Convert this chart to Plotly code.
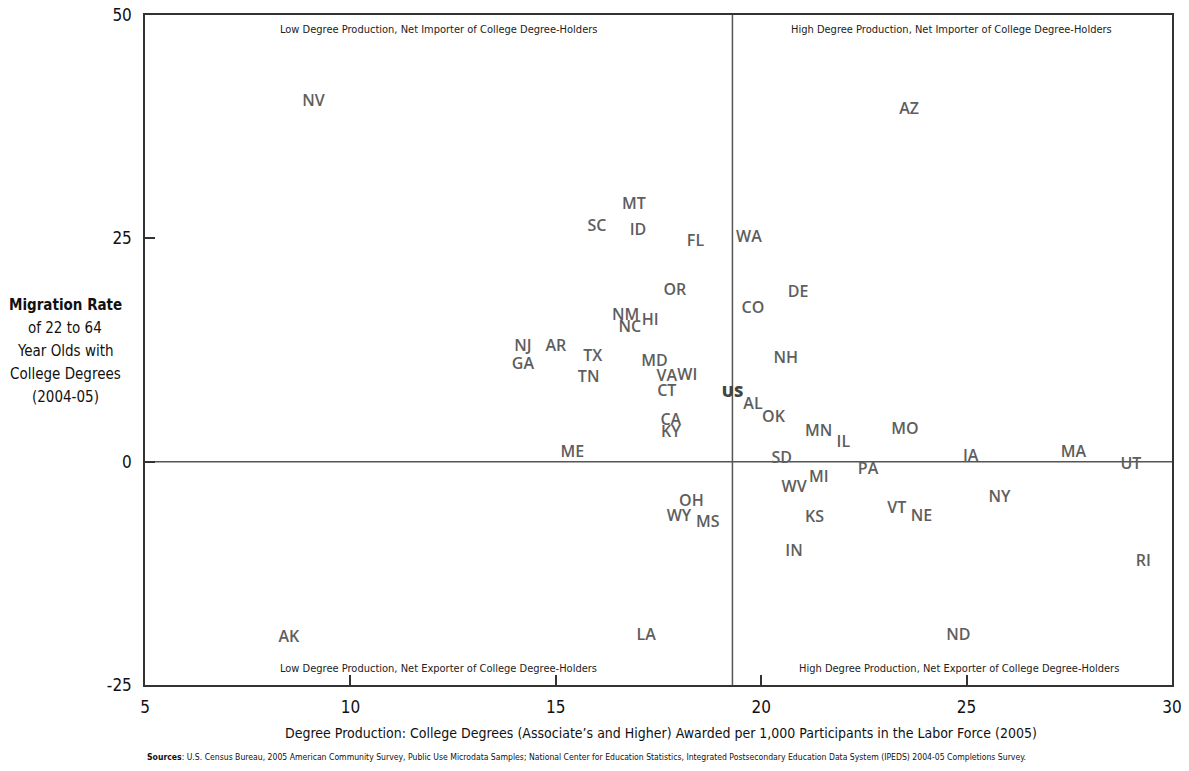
import plotly.graph_objects as go

states = ["NV", "AZ", "MT", "SC", "ID", "FL", "WA", "OR", "DE", "CO", "NM", "HI", "NC",
          "NJ", "AR", "GA", "TX", "TN", "MD", "VA", "WI", "CT", "AL", "OK", "CA", "KY",
          "NH", "MN", "IL", "MO", "SD", "IA", "MA", "UT", "PA", "WV", "MI", "NY", "VT",
          "NE", "KS", "IN", "RI", "ME", "OH", "WY", "MS", "AK", "LA", "ND"]
degree_production = [9.1, 23.6, 16.9, 16.0, 17.0, 18.4, 19.7, 17.9, 20.9, 19.8, 16.7, 17.3, 16.8,
                     14.2, 15.0, 14.2, 15.9, 15.8, 17.4, 17.7, 18.2, 17.7, 19.8, 20.3, 17.8, 17.8,
                     20.6, 21.4, 22.0, 23.5, 20.5, 25.1, 27.6, 29.0, 22.6, 20.8, 21.4, 25.8, 23.3,
                     23.9, 21.3, 20.8, 29.3, 15.4, 18.3, 18.0, 18.7, 8.5, 17.2, 24.8]
migration_rate = [40.3, 39.4, 28.7, 26.3, 25.8, 24.6, 25.0, 19.1, 18.9, 17.1, 16.3, 15.8, 15.0,
                  12.8, 12.8, 10.8, 11.7, 9.4, 11.2, 9.5, 9.6, 7.8, 6.3, 4.9, 4.6, 3.2,
                  11.5, 3.3, 2.1, 3.5, 0.3, 0.5, 1.0, -0.4, -0.9, -2.9, -1.8, -4.1, -5.3,
                  -6.2, -6.3, -10.1, -11.2, 1.0, -4.5, -6.2, -6.9, -19.7, -19.5, -19.5]

us_label = ["US"]
us_degree_production = [19.3]
us_migration_rate = [7.7]

x_ticks = [5, 10, 15, 20, 25, 30]
x_tick_text = ["5", "10", "15", "20", "25", "30"]
y_ticks = [-25, 0, 25, 50]
y_tick_text = ["-25", "0", "25", "50"]

quadrant_labels = ["Low Degree Production, Net Importer of College Degree-Holders",
                   "High Degree Production, Net Importer of College Degree-Holders",
                   "Low Degree Production, Net Exporter of College Degree-Holders",
                   "High Degree Production, Net Exporter of College Degree-Holders"]

y_title_lines = ["<b>Migration Rate</b>", "of 22 to 64", "Year Olds with",
                 "College Degrees", "(2004-05)"]
x_title = ("Degree Production: College Degrees (Associate\u2019s and Higher) "
           "Awarded per 1,000 Participants in the Labor Force (2005)")
sources = ("<b>Sources</b>: U.S. Census Bureau, 2005 American Community Survey, Public Use Microdata "
           "Samples; National Center for Education Statistics, Integrated Postsecondary Education "
           "Data System (IPEDS) 2004-05 Completions Survey.")

condensed = "Liberation Sans Narrow, DejaVu Sans Condensed, Arial Narrow, sans-serif"

L, R, T, B = 145, 17, 15, 86
W, H = 1189, 771
PW, PH = W - L - R, H - T - B


def px_x(px):
    return (px - L) / PW


def px_y(py):
    return (H - B - py) / PH


fig = go.Figure()
fig.add_trace(go.Scatter(
    x=degree_production, y=migration_rate, text=states, mode="text",
    textposition="middle center",
    textfont=dict(family="Open Sans, sans-serif", size=16, color="#5e5e5e", weight=600),
    hoverinfo="text", showlegend=False))
fig.add_trace(go.Scatter(
    x=us_degree_production, y=us_migration_rate, text=us_label, mode="text",
    textposition="middle center",
    textfont=dict(family="Open Sans, sans-serif", size=16, color="#444444", weight=800),
    hoverinfo="text", showlegend=False))

# reference lines: zero migration and US average degree production
fig.add_shape(type="line", xref="x", yref="y", x0=5, x1=30, y0=0, y1=0,
              line=dict(color="#555555", width=1.5), layer="below")
fig.add_shape(type="line", xref="x", yref="y", x0=us_degree_production[0], x1=us_degree_production[0],
              y0=-25, y1=50, line=dict(color="#555555", width=1.5), layer="below")

qfont = dict(family=condensed, size=11, color="#222222")
q_pos = [(438, 30), (951, 30), (438, 668), (959, 668)]
for lbl, (qx, qy) in zip(quadrant_labels, q_pos):
    fig.add_annotation(x=px_x(qx), y=px_y(qy), xref="paper", yref="paper", text=lbl,
                       showarrow=False, font=qfont, xanchor="center", yanchor="middle")

# y axis title block
for i, line in enumerate(y_title_lines):
    fig.add_annotation(x=px_x(65), y=px_y(305 + i * 23), xref="paper", yref="paper",
                       showarrow=False, text=line, xanchor="center", yanchor="middle",
                       font=dict(family=condensed, size=15, color="#111111"))

fig.add_annotation(x=px_x(661), y=px_y(733), xref="paper", yref="paper", showarrow=False,
                   text=x_title, xanchor="center", yanchor="middle",
                   font=dict(family=condensed, size=14, color="#111111"))

fig.add_annotation(x=px_x(145), y=px_y(757), xref="paper", yref="paper", showarrow=False,
                   xanchor="left", yanchor="middle", text=sources,
                   font=dict(family=condensed, size=8.6, color="#111111"))

fig.update_layout(
    width=W, height=H,
    margin=dict(l=L, r=R, t=T, b=B, autoexpand=False),
    plot_bgcolor="white", paper_bgcolor="white",
    xaxis=dict(range=[5, 30], tickvals=x_ticks, ticktext=x_tick_text, ticks="inside",
               ticklen=10, tickwidth=1.5, automargin=False, ticklabelstandoff=6,
               tickcolor="#333333", showline=True, linecolor="#333333", linewidth=1.5, mirror=True,
               showgrid=False, zeroline=False,
               tickfont=dict(family=condensed, size=17, color="#111111")),
    yaxis=dict(range=[-25, 50], tickvals=y_ticks, ticktext=y_tick_text, ticks="inside",
               ticklen=10, tickwidth=1.5, automargin=False, ticklabelstandoff=8,
               tickcolor="#333333", showline=True, linecolor="#333333", linewidth=1.5, mirror=True,
               showgrid=False, zeroline=False,
               tickfont=dict(family=condensed, size=17, color="#111111")),
)

fig.write_html("out.html", config={"displayModeBar": False},
               post_script="document.body.style.margin='0';document.body.style.overflow='hidden';")
